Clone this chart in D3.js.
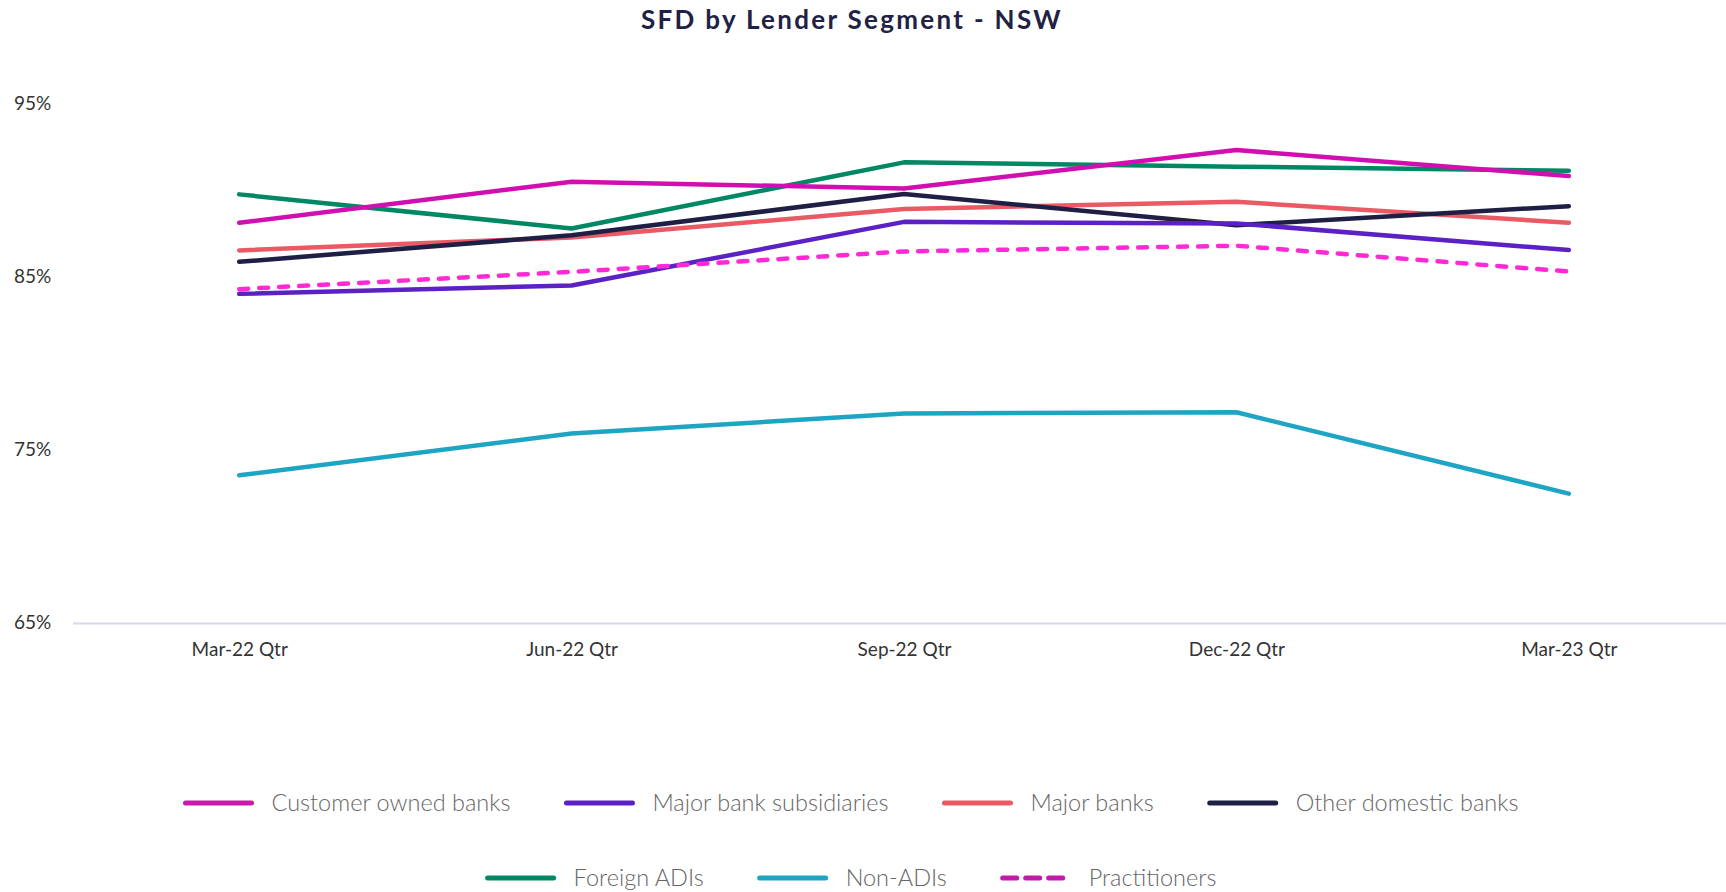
<!DOCTYPE html>
<html>
<head>
<meta charset="utf-8">
<script src="https://cdn.jsdelivr.net/npm/d3@7"></script>
<style>
  body { margin: 0; background: #fff; }
  svg text { font-family: "Lato", "Open Sans", sans-serif; }
</style>
</head>
<body>
<div id="container"></div>
<script>
var width = 1726,
    height = 892;

// data
var quarters = ["Mar-22 Qtr", "Jun-22 Qtr", "Sep-22 Qtr", "Dec-22 Qtr", "Mar-23 Qtr"];
var yTicks = [65, 75, 85, 95];

var customerOwned = [88.17, 90.54, 90.15, 92.37, 90.87];
var majorSubsidiaries = [84.06, 84.54, 88.22, 88.13, 86.59];
var majorBanks = [86.57, 87.32, 88.96, 89.38, 88.17];
var otherDomestic = [85.91, 87.45, 89.83, 88.03, 89.13];
var foreignADIs = [89.81, 87.84, 91.66, 91.41, 91.18];
var nonADIs = [73.57, 75.98, 77.14, 77.21, 72.51];
var practitioners = [84.33, 85.33, 86.51, 86.84, 85.35];

var series = [
  { name: "Customer owned banks", values: customerOwned, color: "#d10fb0", key: "#c81aab", dash: null },
  { name: "Major bank subsidiaries", values: majorSubsidiaries, color: "#5b21c4", key: "#5b21c4", dash: null },
  { name: "Major banks", values: majorBanks, color: "#e95a64", key: "#e95a64", dash: null },
  { name: "Other domestic banks", values: otherDomestic, color: "#1f1f45", key: "#1f1f45", dash: null },
  { name: "Foreign ADIs", values: foreignADIs, color: "#008763", key: "#008763", dash: null },
  { name: "Non-ADIs", values: nonADIs, color: "#1ea5c3", key: "#1ea5c3", dash: null },
  { name: "Practitioners", values: practitioners, color: "#ff2ad6", key: "#c21aa9", dash: "9,11" }
];

var svg = d3.select("#container")
            .append("svg")
            .attr("width", width)
            .attr("height", height);

// title
svg.append("text")
   .attr("x", 852)
   .attr("y", 29)
   .attr("text-anchor", "middle")
   .attr("font-size", 26)
   .attr("font-weight", 700)
   .attr("letter-spacing", 2.3)
   .attr("fill", "#1f2244")
   .text("SFD by Lender Segment - NSW");

// scales
var scale_x = d3.scalePoint()
                .domain(quarters)
                .range([73, 1735])
                .padding(0.5);

var scale_y = d3.scaleLinear()
                .domain([65, 95])
                .range([623.5, 104.6]);

// y labels (no axis line)
svg.append("g")
   .selectAll("text")
   .data(yTicks)
   .join("text")
   .attr("x", 14)
   .attr("y", function(d) { return scale_y(d) - 1; })
   .attr("dy", "0.35em")
   .attr("font-size", 19)
   .attr("fill", "#333")
   .text(function(d) { return d + "%"; });

// baseline
svg.append("line")
   .attr("x1", 73).attr("x2", width)
   .attr("y1", scale_y(65)).attr("y2", scale_y(65))
   .attr("stroke", "#d8d8ec")
   .attr("stroke-width", 2);

// x labels
var x_axis = d3.axisBottom(scale_x).tickSize(0).tickPadding(0);
var gx = svg.append("g")
   .attr("transform", "translate(0," + 642 + ")")
   .call(x_axis);
gx.select(".domain").remove();
gx.selectAll("text")
  .attr("font-family", "Lato, sans-serif")
  .attr("font-size", 19)
  .attr("fill", "#333");

// lines
var line_generator = d3.line()
    .x(function(d, i) { return scale_x(quarters[i]); })
    .y(function(d) { return scale_y(d); });

var drawOrder = [5, 2, 3, 1, 6, 4, 0];
svg.append("g")
   .selectAll("path")
   .data(drawOrder.map(function(i) { return series[i]; }))
   .join("path")
   .attr("d", function(s) { return line_generator(s.values); })
   .attr("fill", "none")
   .attr("stroke", function(s) { return s.color; })
   .attr("stroke-width", 4.5)
   .attr("stroke-linecap", "round")
   .attr("stroke-linejoin", "round")
   .attr("stroke-dasharray", function(s) { return s.dash; });

// legend
var rows = [series.slice(0, 4), series.slice(4)];
var rowY = [803, 878];
var keyW = 70, keyGap = 18, itemGap = 54;

rows.forEach(function(row, r) {
  var g = svg.append("g");
  var x = 0;
  row.forEach(function(s) {
    var item = g.append("g").attr("transform", "translate(" + x + ",0)");
    item.append("line")
        .attr("x1", 2).attr("x2", keyW - 2)
        .attr("y1", 0).attr("y2", 0)
        .attr("stroke", s.key)
        .attr("stroke-width", 5)
        .attr("stroke-linecap", "round")
        .attr("stroke-dasharray", s.dash ? "14,9" : null);
    var t = item.append("text")
        .attr("x", keyW + keyGap)
        .attr("y", 0)
        .attr("dy", "0.35em")
        .attr("font-family", "Roboto, sans-serif")
        .attr("font-weight", 300)
        .attr("font-size", 23.5)
        .attr("fill", "#666")
        .text(s.name);
    x += keyW + keyGap + t.node().getComputedTextLength() + itemGap;
  });
  var total = x - itemGap;
  g.attr("transform", "translate(" + (851 - total / 2) + "," + rowY[r] + ")");
});
</script>
</body>
</html>
